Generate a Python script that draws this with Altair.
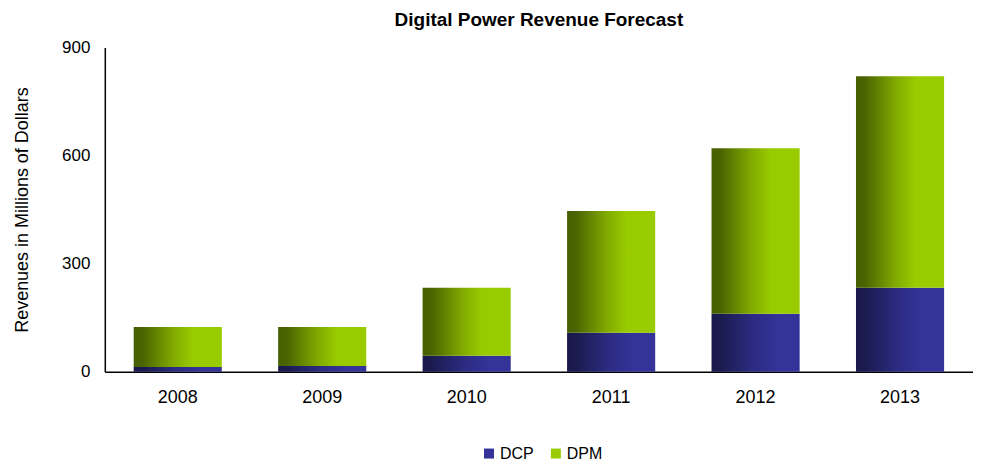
import altair as alt
import pandas as pd

years = ["2008", "2009", "2010", "2011", "2012", "2013"]
dcp = [13, 16, 44, 108, 161, 233]
dpm = [111, 108, 189, 338, 459, 587]
series = ["DCP", "DPM"]
solid_colors = ["#333399", "#99cc00"]

rows = []
for y, a, b in zip(years, dcp, dpm):
    rows.append({"year": y, "series": "DCP", "value": a, "order": 0})
    rows.append({"year": y, "series": "DPM", "value": b, "order": 1})
df = pd.DataFrame(rows)

grad_dcp = alt.Gradient(
    gradient="linear", x1=0, x2=1, y1=0, y2=0,
    stops=[alt.GradientStop(color="#19194c", offset=0),
           alt.GradientStop(color="#1b1b50", offset=0.1),
           alt.GradientStop(color="#2c2c85", offset=0.5),
           alt.GradientStop(color="#333399", offset=0.75),
           alt.GradientStop(color="#333399", offset=1)])
grad_dpm = alt.Gradient(
    gradient="linear", x1=0, x2=1, y1=0, y2=0,
    stops=[alt.GradientStop(color="#476000", offset=0),
           alt.GradientStop(color="#4a6400", offset=0.1),
           alt.GradientStop(color="#80aa00", offset=0.45),
           alt.GradientStop(color="#99cc00", offset=0.68),
           alt.GradientStop(color="#99cc00", offset=1)])

x_enc = alt.X("year:N", sort=years, title=None,
              scale=alt.Scale(paddingInner=0.39, paddingOuter=0.2),
              axis=alt.Axis(labelAngle=0, ticks=False, domainColor="#000000",
                            domainWidth=1.5, labelFontSize=18, labelPadding=17,
                            labelColor="#000000", labelFont="Liberation Sans"))
y_enc = alt.Y("value:Q", stack="zero", title="Revenues in Millions of Dollars",
              scale=alt.Scale(domain=[0, 900], nice=False),
              axis=alt.Axis(values=[0, 300, 600, 900], grid=False, ticks=False,
                            domainColor="#000000", domainWidth=1.5,
                            labelFontSize=17, labelPadding=15, labelColor="#000000",
                            labelFont="Liberation Sans", titleFont="Liberation Sans",
                            titleFontSize=18, titleFontWeight="normal",
                            titleColor="#000000", titlePadding=30))

bars = alt.Chart(df).mark_bar().encode(
    x=x_enc,
    y=y_enc,
    detail="series:N",
    order=alt.Order("order:Q", sort="ascending"),
    fill=alt.condition("datum.series === 'DCP'", alt.value(grad_dcp), alt.value(grad_dpm)),
)

legend_layer = alt.Chart(df).mark_point(shape="square", filled=True, opacity=0).encode(
    x=x_enc,
    y=y_enc,
    order=alt.Order("order:Q", sort="ascending"),
    color=alt.Color("series:N", title=None,
                    scale=alt.Scale(domain=series, range=solid_colors),
                    legend=alt.Legend(orient="none", direction="horizontal",
                                      legendX=377, legendY=399,
                                      symbolType="square", symbolSize=100,
                                      symbolOpacity=1, symbolStrokeWidth=0,
                                      labelFontSize=16, labelFont="Liberation Sans",
                                      labelColor="#000000", columnPadding=14,
                                      labelOffset=3)),
)

chart = alt.layer(bars, legend_layer).properties(
    width=870, height=325,
    background="#ffffff",
    padding={"left": 5, "top": 3, "right": 0, "bottom": 0},
    title=alt.Title("Digital Power Revenue Forecast", font="Liberation Sans",
                    fontSize=19, fontWeight="bold", color="#000000",
                    anchor="middle", frame="group", offset=8),
).configure_view(stroke=None)

chart.save("out.html", embed_options={"renderer": "svg", "actions": False})
